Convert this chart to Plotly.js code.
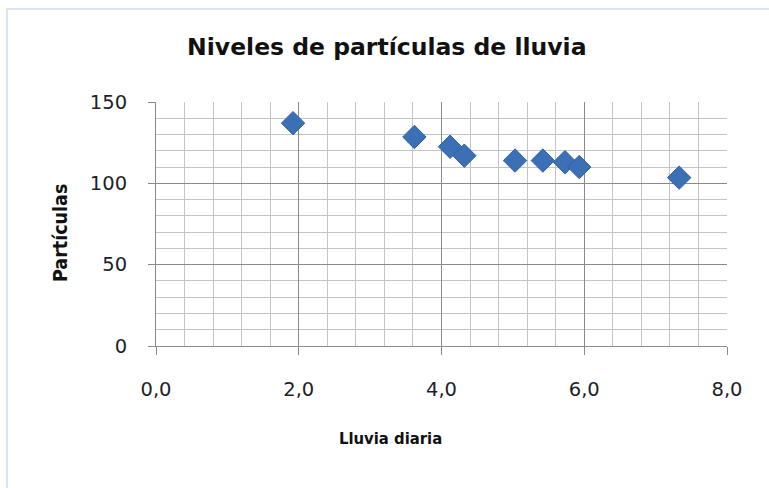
<!DOCTYPE html>
<html>
<head>
<meta charset="utf-8">
<script src="https://cdn.plot.ly/plotly-3.0.1.min.js"></script>
<style>
  html, body { margin: 0; padding: 0; background: #ffffff; overflow: hidden; }
  #frame { position: absolute; left: 6px; top: 8px; width: 800px; height: 520px;
           border-left: 2px solid #dae4f3; border-top: 2px solid #dae4f3; }
  #chart { position: absolute; left: 0; top: 0; width: 769px; height: 488px; }
</style>
</head>
<body>
<div id="frame"></div>
<div id="chart"></div>
<script>
// Data
const lluviaDiaria = [1.92, 3.62, 4.12, 4.32, 5.03, 5.42, 5.73, 5.93, 7.33];
const particulas   = [137, 128.5, 122.5, 117, 114, 114, 113, 110, 103.5];

const xTickVals  = [0, 2, 4, 6, 8];
const xTickText  = ['0,0', '2,0', '4,0', '6,0', '8,0'];
const yTickVals  = [0, 50, 100, 150];
const yTickText  = ['0', '50', '100', '150'];

const chartTitle = 'Niveles de partículas de lluvia';
const xTitle = 'Lluvia diaria';
const yTitle = 'Partículas';

const tickFont = { family: 'DejaVu Sans, sans-serif', size: 19.5, color: '#1e1e2a' };
const boldFont = 'DejaVu Sans Condensed, DejaVu Sans, sans-serif';

const trace = {
  type: 'scatter',
  mode: 'markers',
  x: lluviaDiaria,
  y: particulas,
  marker: {
    symbol: 'diamond',
    size: 18,
    color: '#3b70b7',
    line: { color: '#30619f', width: 1 }
  },
  hoverinfo: 'x+y'
};

const layout = {
  width: 769,
  height: 488,
  paper_bgcolor: 'rgba(0,0,0,0)',
  plot_bgcolor: '#ffffff',
  margin: { l: 156, r: 42, t: 102, b: 142, pad: 0 },
  showlegend: false,
  title: {
    text: '<b>' + chartTitle + '</b>',
    font: { family: 'DejaVu Sans, sans-serif', size: 23.5, color: '#111111' },
    x: 0.503, xref: 'container', xanchor: 'center',
    y: 0.905, yref: 'container', yanchor: 'middle'
  },
  annotations: [
    {
      text: '<b>' + xTitle + '</b>',
      xref: 'paper', yref: 'paper',
      x: (390 - 156) / 571, y: -(438 - 346) / 244,
      xanchor: 'center', yanchor: 'middle',
      showarrow: false,
      font: { family: boldFont, size: 16.5, color: '#111111' }
    },
    {
      text: '<b>' + yTitle + '</b>',
      xref: 'paper', yref: 'paper',
      x: -(156 - 60) / 571, y: (346 - 233) / 244,
      xanchor: 'center', yanchor: 'middle',
      textangle: -90,
      showarrow: false,
      font: { family: boldFont, size: 19.5, color: '#111111' }
    }
  ],
  xaxis: {
    range: [0, 8],
    tickvals: xTickVals,
    ticktext: xTickText,
    tickfont: tickFont,
    ticks: 'outside',
    ticklen: 8,
    tickcolor: '#8a8a8a',
    ticklabelstandoff: 18,
    showline: true,
    linecolor: '#8a8a8a',
    linewidth: 1,
    mirror: false,
    showgrid: true,
    gridcolor: '#8a8a8a',
    gridwidth: 1,
    zeroline: false,
    minor: { dtick: 0.4, showgrid: true, gridcolor: '#c4c4c4', gridwidth: 1, ticks: '' },
    fixedrange: true
  },
  yaxis: {
    range: [0, 150],
    tickvals: yTickVals,
    ticktext: yTickText,
    tickfont: tickFont,
    ticks: 'outside',
    ticklen: 7,
    tickcolor: '#8a8a8a',
    ticklabelstandoff: 17,
    showline: true,
    linecolor: '#8a8a8a',
    linewidth: 1,
    showgrid: true,
    gridcolor: '#8a8a8a',
    gridwidth: 1,
    zeroline: false,
    minor: { dtick: 10, showgrid: true, gridcolor: '#c4c4c4', gridwidth: 1, ticks: '' },
    fixedrange: true
  }
};

Plotly.newPlot('chart', [trace], layout, { displayModeBar: false, staticPlot: true });
</script>
</body>
</html>
